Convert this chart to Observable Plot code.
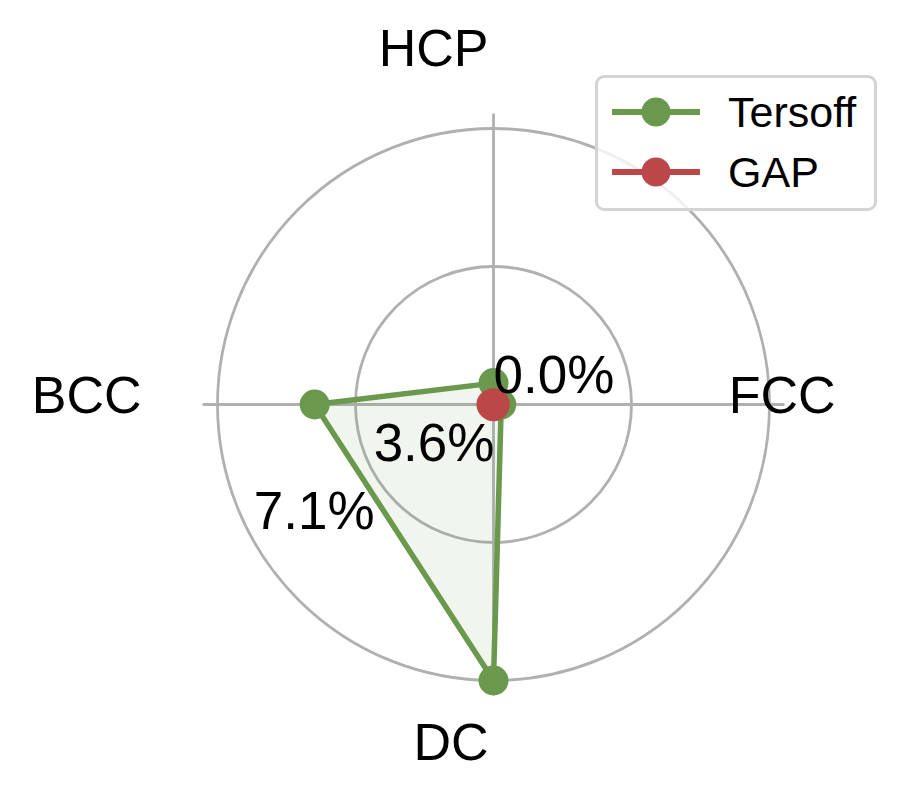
<!DOCTYPE html>
<html>
<head>
<meta charset="utf-8">
<script src="https://cdn.jsdelivr.net/npm/d3@7"></script>
<script src="https://cdn.jsdelivr.net/npm/@observablehq/plot@0.6"></script>
<style>
  html, body { margin: 0; padding: 0; background: #fff; }
  #wrap { position: relative; width: 904px; height: 804px; font-family: "Liberation Sans", Arial, Helvetica, sans-serif; }
  #legend {
    position: absolute; left: 595px; top: 75px; width: 276px; height: 130px;
    border: 3px solid #d4d4d4; border-radius: 9px; background: rgba(255,255,255,0.8);
    box-sizing: content-box;
  }
  .lg-row { position: absolute; left: 0; height: 40px; display: flex; align-items: center; }
  .lg-row span { font-size: 43px; color: #000; margin-left: 28px; line-height: 40px; }
</style>
</head>
<body>
<div id="wrap"></div>
<script>
// ---- data ----
const categories = ["FCC", "HCP", "BCC", "DC"];          // counter-clockwise from east
const tersoff = [0.2, 0.55, 4.6, 7.1];                   // error (%)
const gap = [0.02, 0.02, 0.04, 0.03];                    // error (%)
const seriesNames = ["Tersoff", "GAP"];
const seriesColors = ["#6a994e", "#bc4749"];
const tickValues = [0, 3.55, 7.1];
const tickLabels = ["0.0%", "3.6%", "7.1%"];
const rMax = 7.455;

// ---- geometry helpers (layout) ----
const W = 904, H = 804, cx = 493, cy = 404, K = 276 / 7.1; // px per percent
const angles = categories.map((c, i) => (i * 90) * Math.PI / 180);
const toXY = (r, a) => ({x: r * Math.cos(a), y: r * Math.sin(a)});

function seriesPoints(vals, name) {
  return vals.map((v, i) => ({...toXY(v, angles[i]), name, cat: categories[i], v}));
}
const tPts = seriesPoints(tersoff, "Tersoff");
const gPts = seriesPoints(gap, "GAP");
const closed = pts => [...pts, pts[0]];

const spokes = categories.flatMap((c, i) => [
  {...toXY(0, angles[i]), c}, {...toXY(rMax, angles[i]), c}
]);
const labelR = 347 / K;
const catLabels = categories.map((c, i) => ({...toXY(labelR, angles[i]), c}));
const tickAngle = 209.7 * Math.PI / 180;
const tickPts = tickValues.map((t, i) => ({...toXY(t, tickAngle), r: t, label: tickLabels[i]}));
const rings = tickValues.filter(t => t > 0).map(t => ({x: 0, y: 0, r: t}));

const font = "Liberation Sans, Arial, Helvetica, sans-serif";

const chart = Plot.plot({
  width: W, height: H,
  margin: 0,
  style: {background: "#fff", fontFamily: font, overflow: "visible"},
  x: {type: "linear", domain: [0, 1], range: [cx, cx + K], axis: null},
  y: {type: "linear", domain: [0, 1], range: [cy, cy - K], axis: null},
  r: {type: "linear", domain: [0, 1], range: [0, K]},
  marks: [
    // circular grid
    Plot.dot(rings, {x: "x", y: "y", r: "r", fill: "none", stroke: "#b0b0b0", strokeWidth: 2.8}),
    // spokes
    Plot.line(spokes, {x: "x", y: "y", z: "c", stroke: "#b0b0b0", strokeWidth: 2.8}),
    // Tersoff
    Plot.line(closed(tPts), {x: "x", y: "y", fill: seriesColors[0], fillOpacity: 0.1, stroke: "none"}),
    Plot.line(closed(tPts), {x: "x", y: "y", stroke: seriesColors[0], strokeWidth: 5.5}),
    Plot.dot(tPts, {x: "x", y: "y", fill: seriesColors[0], r: d => 15 / K}),
    // GAP
    Plot.line(closed(gPts), {x: "x", y: "y", stroke: seriesColors[1], strokeWidth: 5.5}),
    Plot.dot(gPts, {x: "x", y: "y", fill: seriesColors[1], r: d => 15.5 / K}),
    // radial tick labels
    Plot.text(tickPts, {x: "x", y: "y", text: "label", textAnchor: "start", lineAnchor: "bottom", dy: -12, fontSize: 53, fill: "#000"}),
    // category labels
    Plot.text(catLabels, {x: "x", y: "y", text: "c", textAnchor: "end", lineAnchor: "middle", dx: -5, dy: -8, fontSize: 52, fill: "#000"})
  ]
});

const wrap = document.getElementById("wrap");
wrap.appendChild(chart);

// legend
const legend = document.createElement("div");
legend.id = "legend";
seriesNames.forEach((n, i) => {
  const row = document.createElement("div");
  row.className = "lg-row";
  row.style.top = (i === 0 ? 14 : 74) + "px";
  row.style.left = "12px";
  const s = d3.create("svg").attr("width", 90).attr("height", 40);
  s.append("line").attr("x1", 2).attr("x2", 90).attr("y1", 20).attr("y2", 20)
    .attr("stroke", seriesColors[i]).attr("stroke-width", 6);
  s.append("circle").attr("cx", 46).attr("cy", 20).attr("r", 14.5).attr("fill", seriesColors[i]);
  row.appendChild(s.node());
  const t = document.createElement("span");
  t.textContent = n;
  row.appendChild(t);
  legend.appendChild(row);
});
wrap.appendChild(legend);
</script>
</body>
</html>
